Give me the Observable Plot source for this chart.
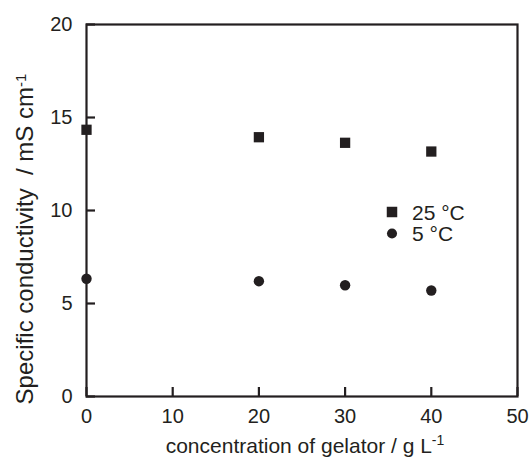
<!DOCTYPE html>
<html>
<head>
<meta charset="utf-8">
<script src="https://cdn.jsdelivr.net/npm/d3@7"></script>
<script src="https://cdn.jsdelivr.net/npm/@observablehq/plot@0.6"></script>
<style>
  html, body { margin: 0; padding: 0; background: #fff; }
  #chart { position: relative; width: 529px; height: 462px; }
  svg { font-family: "Liberation Sans", Arial, sans-serif; }
</style>
</head>
<body>
<div id="chart"></div>
<script>
// Data
const concentration = [0, 20, 30, 40];            // g L^-1
const cond25 = [14.34, 13.94, 13.64, 13.17];      // mS cm^-1 at 25 °C
const cond5  = [6.33, 6.20, 5.98, 5.70];          // mS cm^-1 at 5 °C
const xTicks = [0, 10, 20, 30, 40, 50];
const yTicks = [0, 5, 10, 15, 20];
const seriesNames = ["25 °C", "5 °C"];
const xTitle = "concentration of gelator / g L";
const yTitle = "Specific conductivity  / mS cm";

const ink = "#231f20";

const rows25 = concentration.map((c, i) => ({c, v: cond25[i]}));
const rows5 = concentration.map((c, i) => ({c, v: cond5[i]}));

const W = 529, H = 462, ML = 86, MR = 12, MT = 24, MB = 66, TICK = 9;

const plot = Plot.plot({
  width: W,
  height: H,
  marginLeft: ML,
  marginRight: MR,
  marginTop: MT,
  marginBottom: MB,
  style: {fontFamily: '"Liberation Sans", Arial, sans-serif', fontSize: "20px", color: ink, background: "#fff"},
  x: {domain: [0, 50]},
  y: {domain: [0, 20]},
  marks: [
    Plot.axisY(yTicks, {anchor: "left", tickSize: 0, tickPadding: 14, label: null, fontSize: 20, fill: ink}),
    Plot.axisX(xTicks, {anchor: "bottom", tickSize: 0, tickPadding: 12, label: null, fontSize: 20, fill: ink}),
    // inward ticks (short tick segments inside the frame)
    Plot.tickY(yTicks, {y: d => d, stroke: ink, strokeWidth: 2.2, insetRight: (W - ML - MR) - TICK}),
    Plot.tickX(xTicks, {x: d => d, stroke: ink, strokeWidth: 2.2, insetTop: (H - MT - MB) - TICK}),
    Plot.frame({stroke: ink, strokeWidth: 2.2}),
    Plot.dot(rows25, {x: "c", y: "v", symbol: "square", r: 5.8, fill: ink}),
    Plot.dot(rows5, {x: "c", y: "v", symbol: "circle", r: 5.2, fill: ink})
  ]
});
document.getElementById("chart").appendChild(plot);

const svg = d3.select(plot);

// Y axis title (rotated) with superscript
const yt = svg.append("text")
  .attr("transform", "translate(33,239) rotate(-90)")
  .attr("text-anchor", "middle")
  .attr("fill", ink)
  .style("font-size", "24px")
  .style("white-space", "pre");
yt.append("tspan").text(yTitle);
yt.append("tspan").attr("dy", "-0.5em").style("font-size", "15px").text("-1");

// X axis title with superscript
const xt = svg.append("text")
  .attr("x", 305)
  .attr("y", 453)
  .attr("text-anchor", "middle")
  .attr("fill", ink)
  .style("font-size", "21px")
  .style("white-space", "pre");
xt.append("tspan").text(xTitle);
xt.append("tspan").attr("dy", "-0.55em").style("font-size", "14px").text("-1");

// Legend
const legend = svg.append("g").attr("transform", "translate(392,212)");
const symbols = [d3.symbolSquare, d3.symbolCircle];
const sizes = [110, 80];
seriesNames.forEach((name, i) => {
  const g = legend.append("g").attr("transform", `translate(0,${i * 21.5})`);
  g.append("path").attr("d", d3.symbol(symbols[i], sizes[i])()).attr("fill", ink);
  g.append("text").attr("x", 20).attr("y", 7.5).attr("text-anchor", "start")
    .attr("fill", ink).style("font-size", "21px").text(name);
});
</script>
</body>
</html>
